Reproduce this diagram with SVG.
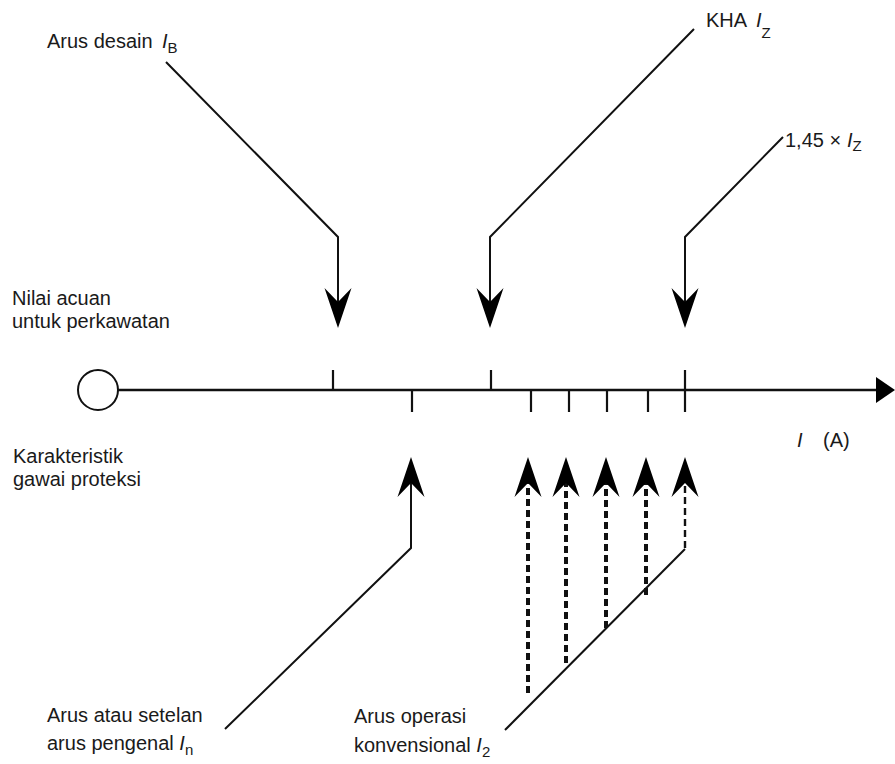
<svg xmlns="http://www.w3.org/2000/svg" width="895" height="764" viewBox="0 0 895 764">
<style>
text{font-family:"Liberation Sans",Arial,sans-serif;font-size:20px;fill:#1a1a1a}
.it{font-style:italic}
.sub{font-size:15px}
.ln{fill:none;stroke:#111;stroke-width:2}
.ax{fill:none;stroke:#111;stroke-width:2.6}
.tk{stroke:#111;stroke-width:2.2}
.dt{fill:none;stroke:#111;stroke-width:4;stroke-dasharray:7 4}
.dn{fill:none;stroke:#111;stroke-width:2.4;stroke-dasharray:7 4}
</style>
<defs>
<marker id="ah" viewBox="-14 -14 40 28" refX="0" refY="0" markerWidth="40" markerHeight="28" markerUnits="userSpaceOnUse" orient="auto">
<path d="M26,0 L-14,-13.5 L0,0 L-14,13.5 Z" fill="#000"/>
</marker>
</defs>
<rect width="895" height="764" fill="#fff"/>
<g id="axis">
<circle cx="98" cy="390" r="20" fill="#fff" stroke="#111" stroke-width="2"/>
<line class="ax" x1="118" y1="390" x2="878" y2="390"/>
<polygon points="876,377 895,390 876,403" fill="#000"/>
<line class="tk" x1="333" y1="370" x2="333" y2="390"/>
<line class="tk" x1="412" y1="390" x2="412" y2="412"/>
<line class="tk" x1="491" y1="370" x2="491" y2="390"/>
<line class="tk" x1="531" y1="390" x2="531" y2="412"/>
<line class="tk" x1="569" y1="390" x2="569" y2="412"/>
<line class="tk" x1="607" y1="390" x2="607" y2="412"/>
<line class="tk" x1="648" y1="390" x2="648" y2="412"/>
<line class="tk" x1="685" y1="370" x2="685" y2="412"/>
<text x="797" y="447"><tspan class="it">I</tspan><tspan x="823">(A)</tspan></text>
</g>
<g id="connectors">
<polyline class="ln" points="166,62 338,237 338,302" marker-end="url(#ah)"/>
<polyline class="ln" points="694,29 490,237 490,302" marker-end="url(#ah)"/>
<polyline class="ln" points="783,137 685,237 685,302" marker-end="url(#ah)"/>
<polyline class="ln" points="225,729 411,548 411,483" marker-end="url(#ah)"/>
<line class="ln" x1="505" y1="730" x2="685" y2="549"/>
<line class="dt" x1="528" y1="693" x2="528" y2="483" marker-end="url(#ah)"/>
<line class="dt" x1="566" y1="663" x2="566" y2="483" marker-end="url(#ah)"/>
<line class="dt" x1="606" y1="628" x2="606" y2="483" marker-end="url(#ah)"/>
<line class="dt" x1="646" y1="595" x2="646" y2="483" marker-end="url(#ah)"/>
<line class="dn" x1="685" y1="548" x2="685" y2="483" marker-end="url(#ah)"/>
</g>
<g id="label-ib">
<text x="47" y="48">Arus desain <tspan class="it" x="162">I</tspan><tspan class="sub" dy="5">B</tspan></text>
</g>
<g id="label-iz">
<text x="706" y="27">KHA <tspan class="it" x="756">I</tspan><tspan class="sub" dy="11">Z</tspan></text>
</g>
<g id="label-145iz">
<text x="785" y="147">1,45 × <tspan class="it" x="847">I</tspan><tspan class="sub" dy="4">Z</tspan></text>
</g>
<g id="label-ref">
<text x="12" y="305">Nilai acuan</text>
<text x="12" y="328">untuk perkawatan</text>
</g>
<g id="label-char">
<text x="13" y="463">Karakteristik</text>
<text x="13" y="486">gawai proteksi</text>
</g>
<g id="label-in">
<text x="47" y="722">Arus atau setelan</text>
<text x="47" y="750">arus pengenal <tspan class="it">I</tspan><tspan class="sub" dy="5">n</tspan></text>
</g>
<g id="label-i2">
<text x="354" y="723">Arus operasi</text>
<text x="354" y="752">konvensional <tspan class="it">I</tspan><tspan class="sub" dy="5">2</tspan></text>
</g>
</svg>
